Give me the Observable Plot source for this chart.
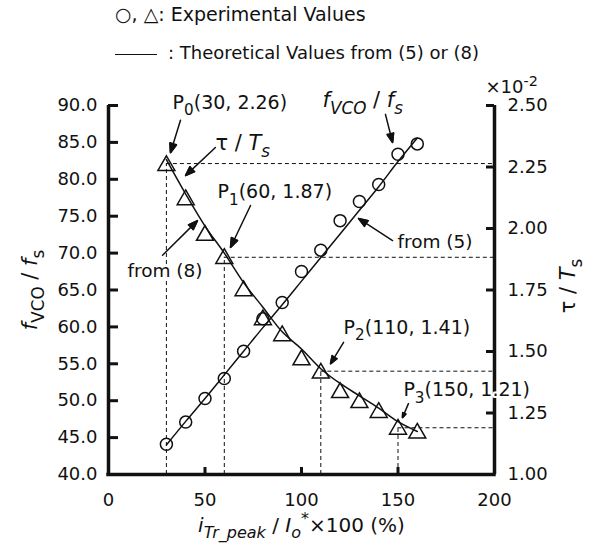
<!DOCTYPE html>
<html><head><meta charset="utf-8">
<script src="https://cdn.jsdelivr.net/npm/d3@7"></script>
<script src="https://cdn.jsdelivr.net/npm/@observablehq/plot@0.6"></script>
<style>
body{margin:0;background:#fff;font-family:"DejaVu Sans",sans-serif;color:#111;}
#legend{position:relative;width:597px;height:70px;font-size:18px;}
.row{position:absolute;left:115px;white-space:nowrap;line-height:1;}
.seg{display:inline-block;width:42px;border-top:1.5px solid #111;vertical-align:middle;margin-right:11px;}
#chart svg{display:block;}
</style></head><body>
<div id="legend">
 <div class="row" style="top:5px;font-size:19px">○, △: Experimental Values</div>
 <div class="row" style="top:44px"><span class="seg"></span>: Theoretical Values from (5) or (8)</div>
</div>
<div id="chart"></div>
<script>
// ---- data ----
const xVals = [30, 40, 50, 60, 70, 80, 90, 100, 110, 120, 130, 140, 150, 160];
const fvcoExp = [44.1, 47.1, 50.3, 53.0, 56.7, 61.1, 63.3, 67.5, 70.4, 74.4, 77.0, 79.3, 83.4, 84.8];
const tauExp = [2.264, 2.125, 1.98, 1.886, 1.755, 1.637, 1.572, 1.474, 1.42, 1.341, 1.30, 1.26, 1.192, 1.176];
const fvcoTheory = [44.0, 47.2, 50.3, 53.5, 56.7, 59.9, 63.0, 66.2, 69.4, 72.6, 75.8, 79.0, 82.4, 85.6];
const tauTheory = [2.28, 2.14, 2.01, 1.90, 1.78, 1.68, 1.58, 1.51, 1.43, 1.37, 1.32, 1.27, 1.215, 1.175];
const yLeftTicks = [40, 45, 50, 55, 60, 65, 70, 75, 80, 85, 90];
const yRightTicks = [1.00, 1.25, 1.50, 1.75, 2.00, 2.25, 2.50];
const xTicks = [0, 50, 100, 150, 200];
const pointX = [30, 60, 110, 150];
const pointTau = [2.264, 1.883, 1.42, 1.19];

// annotations (data coordinates, y in left-axis units)
const annText = ["P<sub>0</sub>(30, 2.26)", "τ / <i>T</i><sub><i>s</i></sub>", "P<sub>1</sub>(60, 1.87)", "from (8)",
  "<i>f</i><sub><i>VCO</i></sub> / <i>f</i><sub><i>s</i></sub>", "from (5)", "P<sub>2</sub>(110, 1.41)", "P<sub>3</sub>(150, 1.21)"];
const annX = [33.2, 55.4, 56.5, 9.8, 110.9, 149.7, 121.8, 152.8];
const annY = [90.4, 84.85, 78.25, 67.6, 90.7, 71.5, 59.9, 51.4];
const annSize = [19, 21, 19, 18.5, 21, 18.5, 19, 19];
const arrX1 = [37.3, 55.4, 73.6, 28.0, 143.5, 147.2, 121.8, 155.4];
const arrY1 = [88.0, 84.3, 76.45, 69.7, 88.8, 71.7, 57.9, 49.6];
const arrX2 = [32.1, 39.9, 63.2, 46.1, 147.2, 129.5, 115.0, 152.3];
const arrY2 = [83.6, 80.5, 70.76, 74.4, 84.99, 74.7, 55.0, 47.7];

const t2y = t => 40 + (t - 1) * (50 / 1.5);
const y2t = v => (v - 40) * 1.5 / 50 + 1;
const idx = a => a.map((_, i) => i);
const ink = "#111";
const W = 597, H = 479, ML = 108, MR = 103, MT = 35, MB = 75;
const frameW = W - ML - MR, frameH = H - MT - MB;
// tick lengths in px converted to data units
const pxX = px => px * 200 / frameW;
const pxY = px => px * 50 / frameH;

const svg = Plot.plot({
  width: W, height: H,
  marginLeft: ML, marginRight: MR, marginTop: MT, marginBottom: MB,
  x: {domain: [0, 200]},
  y: {domain: [40, 90]},
  style: {fontFamily: "DejaVu Sans, sans-serif", fontSize: "18px", color: ink, background: "white", overflow: "visible"},
  marks: [
    // dashed guides
    Plot.ruleX(idx(pointX), {x: i => pointX[i], y1: 40, y2: i => t2y(pointTau[i]), stroke: ink, strokeWidth: 1, strokeDasharray: "4,3"}),
    Plot.ruleY(idx(pointX), {y: i => t2y(pointTau[i]), x1: i => pointX[i], x2: 200, stroke: ink, strokeWidth: 1, strokeDasharray: "4,3"}),
    // theory lines
    Plot.line(idx(xVals), {x: i => xVals[i], y: i => fvcoTheory[i], stroke: ink, strokeWidth: 1.5, curve: "catmull-rom"}),
    Plot.line(idx(xVals), {x: i => xVals[i], y: i => t2y(tauTheory[i]), stroke: ink, strokeWidth: 1.5, curve: "catmull-rom"}),
    // experimental
    Plot.dot(idx(xVals), {x: i => xVals[i], y: i => fvcoExp[i], r: 6, stroke: ink, strokeWidth: 1.5, fill: "none"}),
    Plot.dot(idx(xVals), {x: i => xVals[i], y: i => t2y(tauExp[i]), symbol: "triangle", r: 6.3, dy: 2, stroke: ink, strokeWidth: 1.5, fill: "none"}),
    // frame
    Plot.ruleX([0, 200], {stroke: ink, strokeWidth: 3.5}),
    Plot.ruleY([40], {stroke: ink, strokeWidth: 3.5, strokeLinecap: "square"}),
    // inward ticks
    Plot.ruleY(yLeftTicks, {y: d => d, x1: 0, x2: pxX(10), stroke: ink, strokeWidth: 3}),
    Plot.ruleY(yRightTicks, {y: d => t2y(d), x1: 200 - pxX(8), x2: 200, stroke: ink, strokeWidth: 3}),
    Plot.ruleX(xTicks, {x: d => d, y1: 40, y2: 40 + pxY(7), stroke: ink, strokeWidth: 3}),
    // axis labels
    Plot.axisY(yLeftTicks, {anchor: "left", tickSize: 0, tickPadding: 11, tickFormat: d3.format(".1f"), label: null}),
    Plot.axisY(yRightTicks.map(t2y), {anchor: "right", tickSize: 0, tickPadding: 13, tickFormat: v => y2t(v).toFixed(2), label: null}),
    Plot.axisX(xTicks, {anchor: "bottom", tickSize: 0, tickPadding: 19, tickFormat: d => String(d), label: null}),
    // axis titles
    Plot.text(["<i>f</i><sub>VCO</sub> / <i>f</i><sub>s</sub>"], {frameAnchor: "left", textAnchor: "middle", dx: -78, rotate: -90, fontSize: 21, text: d => d}),
    Plot.text(["τ / <i>T</i><sub>s</sub>"], {frameAnchor: "right", textAnchor: "middle", dx: 74, dy: -4, rotate: -90, fontSize: 21, text: d => d}),
    Plot.text(["<i>i</i><sub><i>Tr_peak</i></sub> / <i>I</i><sub><i>o</i></sub><sup>*</sup>×100 (%)"], {frameAnchor: "bottom", textAnchor: "middle", dy: 57, fontSize: 20, text: d => d}),
    Plot.text(["×10<sup>-2</sup>"], {x: 200, y: 90, dx: -9, dy: -18, textAnchor: "start", fontSize: 18, text: d => d}),
    // annotations
    Plot.text(idx(annText), {x: i => annX[i], y: i => annY[i], text: i => annText[i], fontSize: i => annSize[i], textAnchor: "start", lineAnchor: "middle", stroke: "white", strokeWidth: 4, fill: ink}),
    Plot.arrow(idx(arrX1), {x1: i => arrX1[i], y1: i => arrY1[i], x2: i => arrX2[i], y2: i => arrY2[i], stroke: ink, strokeWidth: 1.5, headLength: 10, headAngle: 40})
  ]
});

const ns = "http://www.w3.org/2000/svg";
// rich text: <i>, <sub>, <sup>
svg.querySelectorAll("text").forEach(t => {
  const s = t.textContent;
  if (!s.includes("<")) return;
  while (t.firstChild) t.removeChild(t.firstChild);
  const parts = s.split(/(<\/?(?:i|sub|sup)>)/);
  let ital = 0, level = 0, cur = 0;
  for (const p of parts) {
    if (!p) continue;
    if (p === "<i>") { ital++; continue; }
    if (p === "</i>") { ital--; continue; }
    if (p === "<sub>") { level = -1; continue; }
    if (p === "<sup>") { level = 1; continue; }
    if (p === "</sub>" || p === "</sup>") { level = 0; continue; }
    const ts = document.createElementNS(ns, "tspan");
    const scale = level ? 0.8 : 1;
    const target = level === -1 ? 0.33 : level === 1 ? -0.38 : 0;
    const dy = (target - cur) / scale;
    if (scale !== 1) ts.setAttribute("font-size", "0.8em");
    if (dy) ts.setAttribute("dy", dy.toFixed(3) + "em");
    cur = target;
    if (ital) ts.setAttribute("font-style", "italic");
    ts.textContent = p;
    t.appendChild(ts);
  }
});
// filled arrowheads
svg.querySelectorAll('g[aria-label="arrow"] path').forEach(p => {
  const nums = (p.getAttribute("d").match(/-?\d*\.?\d+(?:e-?\d+)?/g) || []).map(Number);
  const n = nums.length;
  if (n < 6) return;
  const [hx1, hy1, x2, y2, hx2, hy2] = nums.slice(n - 6);
  const tri = document.createElementNS(ns, "path");
  tri.setAttribute("d", `M${hx1},${hy1}L${x2},${y2}L${hx2},${hy2}Z`);
  tri.setAttribute("fill", ink);
  p.parentNode.appendChild(tri);
});
document.getElementById("chart").appendChild(svg);
</script>
</body></html>
